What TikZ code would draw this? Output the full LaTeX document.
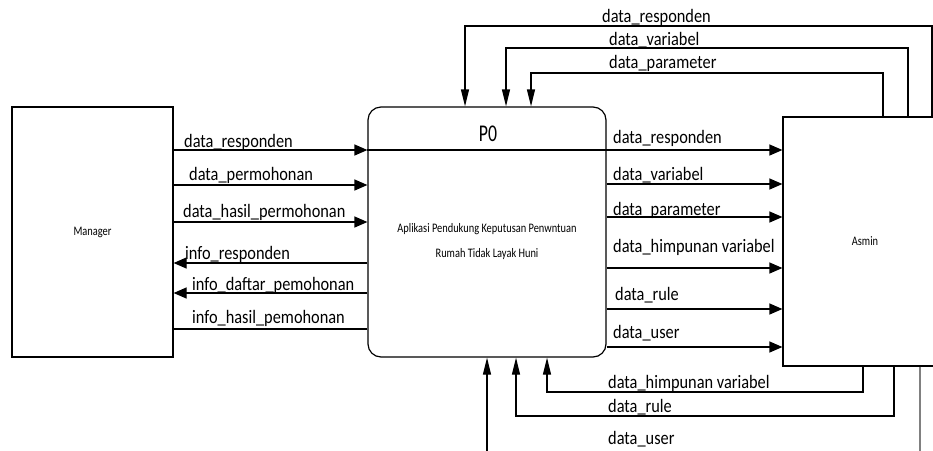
\documentclass[tikz,border=0pt]{standalone}
\usepackage{fontspec}
\setmainfont{Carlito}
\newfontfamily\labelfont{Carlito}[FakeStretch=0.86]
\newfontfamily\titlefont{Carlito}[FakeStretch=0.74]
\newfontfamily\smallfont{Carlito}[FakeStretch=0.8]
\usetikzlibrary{arrows.meta}

\begin{document}
\begin{tikzpicture}[x=1pt,y=-1pt,
  box/.style={draw, line width=1.2pt, inner sep=0pt},
  flow/.style={line width=1.2pt},
  hin/.style={flow, -{Triangle[length=13pt,width=11pt]}},
  vin/.style={flow, -{Triangle[length=17pt,width=8pt]}},
  lab/.style={anchor=base west, inner sep=0pt, font=\labelfont\fontsize{19}{20}\selectfont},
  small/.style={font=\smallfont\fontsize{13}{14}\selectfont}]

\useasboundingbox (0,0) rectangle (933,450);
\clip (0,0) rectangle (933,450);

% entities and the process
\node[box, small, minimum width=161pt, minimum height=250pt] (manager) at (92.5,232) {Manager};
\node[box, rounded corners=13pt, minimum width=238pt, minimum height=250pt] (p0) at (487,232) {};
\node[box, small, minimum width=164pt, minimum height=249pt] (asmin) at (865,241.5) {Asmin};

\node[anchor=base, inner sep=0pt, font=\titlefont\fontsize{24}{26}\selectfont] (p0title) at (488,141) {P0};
\node[anchor=base, inner sep=0pt, small] (p0line1) at (487,232) {Aplikasi Pendukung Keputusan Penwntuan};
\node[anchor=base, inner sep=0pt, small] (p0line2) at (487,257) {Rumah Tidak Layak Huni};

% rows between Manager and P0
\coordinate (l1) at (0,150);
\coordinate (l2) at (0,185);
\coordinate (l3) at (0,222);
\coordinate (l4) at (0,263);
\coordinate (l5) at (0,293);
\coordinate (l6) at (0,329);

\draw[hin] (manager.east |- l1) -- (p0.west |- l1);
\draw[flow] (p0.west |- l1) -- (p0.east |- l1);
\draw[hin] (manager.east |- l2) -- (p0.west |- l2);
\draw[hin] (manager.east |- l3) -- (p0.west |- l3);
\draw[hin] (p0.west |- l4) -- (manager.east |- l4);
\draw[hin] (p0.west |- l5) -- (manager.east |- l5);
\draw[flow] (p0.west |- l6) -- (manager.east |- l6);

\node[lab] (ml1) at (184,147) {data\_responden};
\node[lab] (ml2) at (189,180) {data\_permohonan};
\node[lab] (ml3) at (183,217) {data\_hasil\_permohonan};
\node[lab] (ml4) at (185,259) {info\_responden};
\node[lab] (ml5) at (192,290) {info\_daftar\_pemohonan};
\node[lab] (ml6) at (192,323) {info\_hasil\_pemohonan};

% rows between P0 and Asmin
\coordinate (r1) at (0,150);
\coordinate (r2) at (0,184);
\coordinate (r3) at (0,217);
\coordinate (r4) at (0,268);
\coordinate (r5) at (0,309);
\coordinate (r6) at (0,347);

\draw[hin] (p0.east |- r1) -- (asmin.west |- r1);
\draw[hin] (p0.east |- r2) -- (asmin.west |- r2);
\draw[hin] (p0.east |- r3) -- (asmin.west |- r3);
\draw[hin] (p0.east |- r4) -- (asmin.west |- r4);
\draw[hin] (p0.east |- r5) -- (asmin.west |- r5);
\draw[hin] (p0.east |- r6) -- (asmin.west |- r6);

\node[lab] (al1) at (613,143) {data\_responden};
\node[lab] (al2) at (613,180) {data\_variabel};
\node[lab] (al3) at (613,215) {data\_parameter};
\node[lab] (al4) at (613,252) {data\_himpunan variabel};
\node[lab] (al5) at (615,300) {data\_rule};
\node[lab] (al6) at (613,338) {data\_user};

% flows from Asmin over the top into P0
\coordinate (ta1) at (932,26);  \coordinate (tb1) at (465,26);
\coordinate (ta2) at (908,48);  \coordinate (tb2) at (506,48);
\coordinate (ta3) at (883,73);  \coordinate (tb3) at (531,73);
\draw[vin] (asmin.north -| ta1) -- (ta1) -- (tb1) -- (p0.north -| tb1);
\draw[vin] (asmin.north -| ta2) -- (ta2) -- (tb2) -- (p0.north -| tb2);
\draw[vin] (asmin.north -| ta3) -- (ta3) -- (tb3) -- (p0.north -| tb3);

\node[lab] (tl1) at (602,22) {data\_responden};
\node[lab] (tl2) at (609,45) {data\_variabel};
\node[lab] (tl3) at (609,68) {data\_parameter};

% flows from Asmin underneath into P0
\coordinate (ba1) at (863,392); \coordinate (bb1) at (547,392);
\coordinate (ba2) at (894,416); \coordinate (bb2) at (516,416);
\coordinate (bu1) at (920,470); \coordinate (bu2) at (487,470);
\draw[vin] (asmin.south -| ba1) -- (ba1) -- (bb1) -- (p0.south -| bb1);
\draw[vin] (asmin.south -| ba2) -- (ba2) -- (bb2) -- (p0.south -| bb2);
\draw[flow, gray] (asmin.south -| bu1) -- (bu1);
\draw[vin] (bu2) -- (p0.south -| bu2);

\node[lab] (bl1) at (608,388) {data\_himpunan variabel};
\node[lab] (bl2) at (608,412) {data\_rule};
\node[lab] (bl3) at (608,444) {data\_user};
\end{tikzpicture}
\end{document}
